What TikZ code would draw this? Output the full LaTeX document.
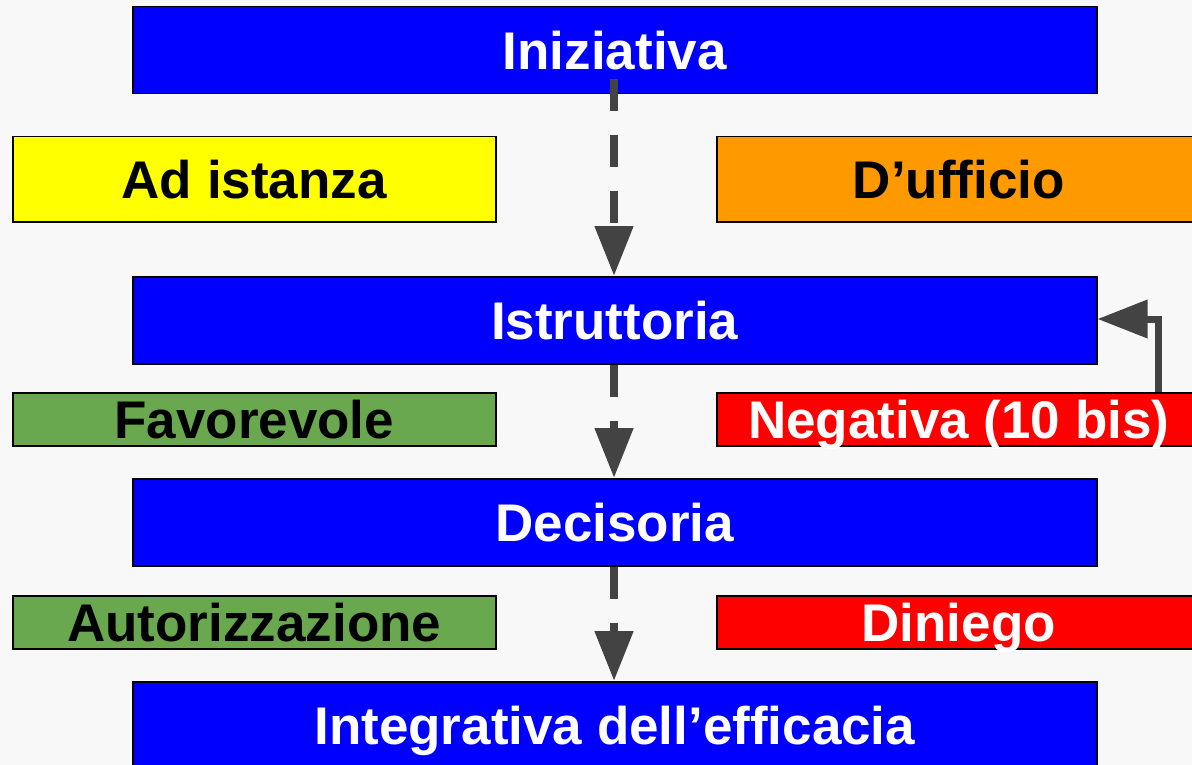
\documentclass[tikz,border=0pt]{standalone}
\usepackage{fontspec}
\setmainfont{Liberation Sans}
\usetikzlibrary{arrows.meta}
\definecolor{bg}{HTML}{F8F8F8}
\definecolor{boxblue}{HTML}{0000FF}
\definecolor{boxyellow}{HTML}{FFFF00}
\definecolor{boxorange}{HTML}{FF9900}
\definecolor{boxgreen}{HTML}{6AA84F}
\definecolor{boxred}{HTML}{FF0000}
\definecolor{arrowgray}{HTML}{434343}
\tikzset{
  box/.style={draw=black, line width=1.5pt, inner sep=0pt, anchor=north west,
    font=\fontsize{53}{60}\selectfont\bfseries, text height=38pt, text depth=0pt},
  phase/.style={box, fill=boxblue, text=white, minimum width=964pt, minimum height=87pt},
  sidebig/.style={box, minimum height=85pt},
  sidesmall/.style={box, minimum height=53pt},
  flow/.style={draw=arrowgray, line width=8pt, dash pattern=on 32pt off 24pt,
    -{Triangle[length=50pt,width=37pt]}},
  back/.style={draw=arrowgray, line width=7pt, -{Triangle[length=50pt,width=37pt]}}
}
\begin{document}
\begin{tikzpicture}[x=1pt,y=-1pt]
\fill[bg] (0,0) rectangle (1192,765);
\useasboundingbox (0,0) rectangle (1192,765);
\clip (0,0) rectangle (1192,765);
\node[phase] (ini) at (132,6) {Iniziativa};
\node[sidebig, fill=boxyellow, minimum width=483pt] (ist) at (12,136) {Ad istanza};
\node[sidebig, fill=boxorange, minimum width=484pt] (uff) at (716,136) {D’ufficio};
\node[phase] (istr) at (132,276) {Istruttoria};
\node[sidesmall, fill=boxgreen, minimum width=483pt] (fav) at (12,392) {Favorevole};
\node[sidesmall, fill=boxred, text=white, minimum width=484pt] (neg) at (716,392) {Negativa (10 bis)};
\node[phase] (dec) at (132,478) {Decisoria};
\node[sidesmall, fill=boxgreen, minimum width=483pt] (aut) at (12,595) {Autorizzazione};
\node[sidesmall, fill=boxred, text=white, minimum width=484pt] (din) at (716,595) {Diniego};
\node[phase] (int) at (132,681) {Integrativa dell’efficacia};
\coordinate (s1) at (614,79);
\draw[flow] (s1) -- (istr.north -| s1);
\draw[flow] (istr.south -| s1) -- (dec.north -| s1);
\draw[flow] (dec.south -| s1) -- (int.north -| s1);
\coordinate (nb) at (1158,392);
\coordinate (corner) at (1158,319);
\draw[back] (nb) -- (corner) -- (istr.east |- corner);
\end{tikzpicture}
\end{document}
